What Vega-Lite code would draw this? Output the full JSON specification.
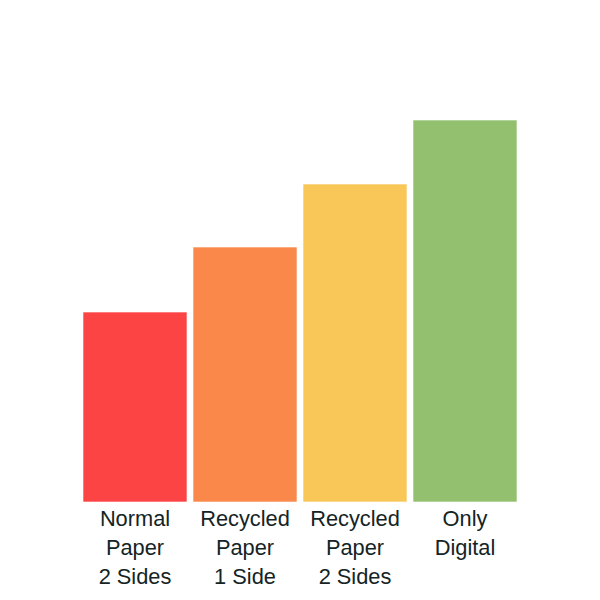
{
  "$schema": "https://vega.github.io/schema/vega-lite/v6.json",
  "width": 440,
  "height": 500,
  "autosize": {"type": "none"},
  "padding": {"left": 80, "top": 2, "right": 80, "bottom": 98},
  "background": "#ffffff",
  "config": {"view": {"stroke": null}},
  "data": {
    "values": [
      {"category": "Normal\nPaper\n2 Sides", "value": 190, "color": "#fc4444"},
      {"category": "Recycled\nPaper\n1 Side", "value": 255, "color": "#f9884a"},
      {"category": "Recycled\nPaper\n2 Sides", "value": 318, "color": "#f9c757"},
      {"category": "Only\nDigital", "value": 382, "color": "#93c06e"}
    ]
  },
  "mark": {"type": "bar", "stroke": "#ffffff", "strokeOpacity": 0.6, "strokeWidth": 1},
  "encoding": {
    "x": {
      "field": "category",
      "type": "nominal",
      "sort": null,
      "scale": {"paddingInner": 0.0545, "paddingOuter": 0.02725},
      "axis": {
        "title": null,
        "domain": false,
        "ticks": false,
        "labelAngle": 0,
        "labelExpr": "split(datum.value, '\\n')",
        "labelFont": "Liberation Sans",
        "labelFontSize": 21.8,
        "labelLineHeight": 29,
        "labelPadding": 6,
        "labelColor": "#142424",
        "labelLimit": 0
      }
    },
    "y": {
      "field": "value",
      "type": "quantitative",
      "scale": {"domain": [0, 500]},
      "axis": null
    },
    "color": {"field": "color", "type": "nominal", "scale": null, "legend": null}
  }
}
